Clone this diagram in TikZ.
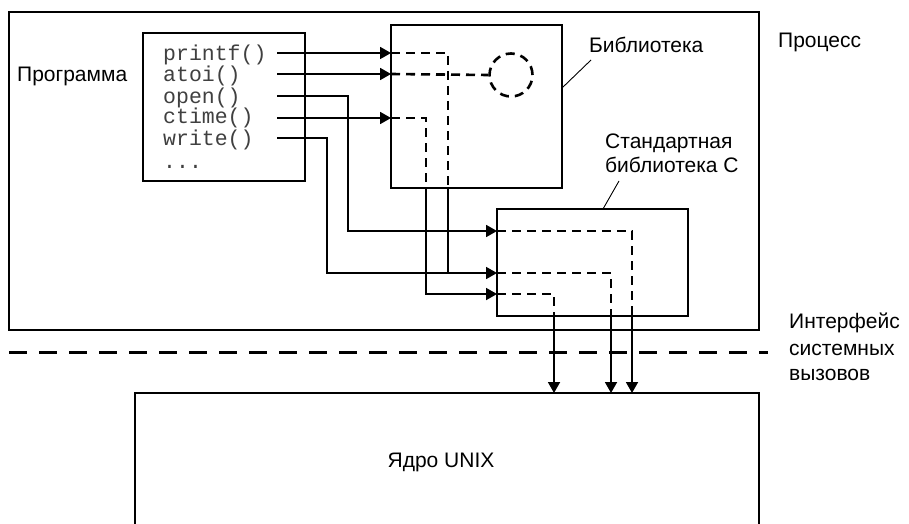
\documentclass[tikz,border=0pt]{standalone}
\usepackage{fontspec}
\setmainfont{Liberation Sans}
\newfontfamily\codefont{Liberation Mono}
\usetikzlibrary{arrows.meta}
\tikzset{
  boxline/.style={draw=black, line width=2pt},
  conn/.style={line width=1.8pt, -{Triangle[length=11pt,width=12pt]}},
  plainconn/.style={line width=1.8pt},
  innerdash/.style={line width=2.6pt, dash pattern=on 9pt off 6pt},
  callout/.style={line width=0.9pt},
  lbl/.style={font=\fontsize{21}{24}\selectfont, inner sep=0pt, anchor=base west},
  code/.style={font=\codefont\fontsize{21.5}{24}\selectfont, text=black!75, inner sep=0pt, anchor=base west},
}
\begin{document}
\begin{tikzpicture}[x=1pt,y=-1pt]
\useasboundingbox (0,0) rectangle (909,524);
\fill[white] (0,0) rectangle (909,524);

% boxes
\draw[boxline] (9,12) rectangle (759,330);
\node[boxline, minimum width=162pt, minimum height=148pt, inner sep=0pt] (prog) at (224,107) {};
\node[boxline, minimum width=171pt, minimum height=163pt, inner sep=0pt] (lib) at (476.5,106.5) {};
\node[boxline, minimum width=191pt, minimum height=107pt, inner sep=0pt] (stdc) at (592.5,262.5) {};
\draw[boxline] (135,524) -- (135,393) -- (759,393) -- (759,524);
\coordinate (kern) at (447,393);

% labels
\node[lbl] (tProc) at (778,48) {Процесс};
\node[lbl] (tProg) at (17,82) {Программа};
\node[lbl] (tLib) at (589,53) {Библиотека};
\node[lbl] (tStd1) at (605,148) {Стандартная};
\node[lbl] (tStd2) at (605,172) {библиотека С};
\node[lbl] (tIf1) at (789,328) {Интерфейс};
\node[lbl] (tIf2) at (789,355) {системных};
\node[lbl] (tIf3) at (789,380) {вызовов};
\node[lbl, anchor=base] (tKern) at (441,467) {Ядро UNIX};

% code lines
\node[code] (cPrintf) at (163,61) {printf()};
\node[code] (cAtoi) at (163,82) {atoi()};
\node[code] (cOpen) at (163,103) {open()};
\node[code] (cCtime) at (163,124) {ctime()};
\node[code] (cWrite) at (163,145) {write()};
\node[code] (cDots) at (163,168) {...};

% coordinates
\coordinate (sPrintf) at (277,53);
\coordinate (sAtoi) at (277,74);
\coordinate (sOpen) at (277,96);
\coordinate (sCtime) at (277,118);
\coordinate (sWrite) at (277,138);
\coordinate (ePrintf) at (391,53);
\coordinate (eAtoi) at (391,74);
\coordinate (eCtime) at (391,118);
\coordinate (eOpen) at (497,231);
\coordinate (eWrite) at (497,273);
\coordinate (eCtime2) at (497,294);
\coordinate (libBotA) at (426,188);
\coordinate (libBotB) at (448,188);
\coordinate (join) at (448,273);
\coordinate (stdBotA) at (554,316);
\coordinate (stdBotB) at (611,316);
\coordinate (stdBotC) at (632,316);
\coordinate (kA) at (554,393);
\coordinate (kB) at (611,393);
\coordinate (kC) at (632,393);

% solid arrows
\draw[conn] (sPrintf) -- (ePrintf);
\draw[conn] (sAtoi) -- (eAtoi);
\draw[conn] (sCtime) -- (eCtime);
\draw[conn] (sOpen) -- (348,96) -- (348,231) -- (eOpen);
\draw[conn] (sWrite) -- (327,138) -- (327,273) -- (eWrite);
\draw[conn] (libBotA) -- (426,294) -- (eCtime2);
\draw[plainconn] (libBotB) -- (join);
\draw[conn] (stdBotA) -- (kA);
\draw[conn] (stdBotB) -- (kB);
\draw[conn] (stdBotC) -- (kC);

% inner dashed paths
\node[draw, innerdash, circle, minimum size=43pt, inner sep=0pt] (circ) at (511,75) {};
\draw[innerdash] (ePrintf) -- (448,53) -- (libBotB);
\draw[innerdash] (eAtoi) -- (circ.west);
\draw[innerdash] (eCtime) -- (426,118) -- (libBotA);
\draw[innerdash] (eOpen) -- (632,231) -- (stdBotC);
\draw[innerdash] (eWrite) -- (611,273) -- (stdBotB);
\draw[innerdash] (eCtime2) -- (554,294) -- (stdBotA);

% system call interface line
\coordinate (ifL) at (9,352);
\coordinate (ifR) at (768,352);
\draw[line width=3pt, dash pattern=on 18pt off 12pt] (ifL) -- (ifR);

% callouts
\draw[callout] (562,88) -- (591,60);
\draw[callout] (603,209) -- (619,181);
\end{tikzpicture}
\end{document}
